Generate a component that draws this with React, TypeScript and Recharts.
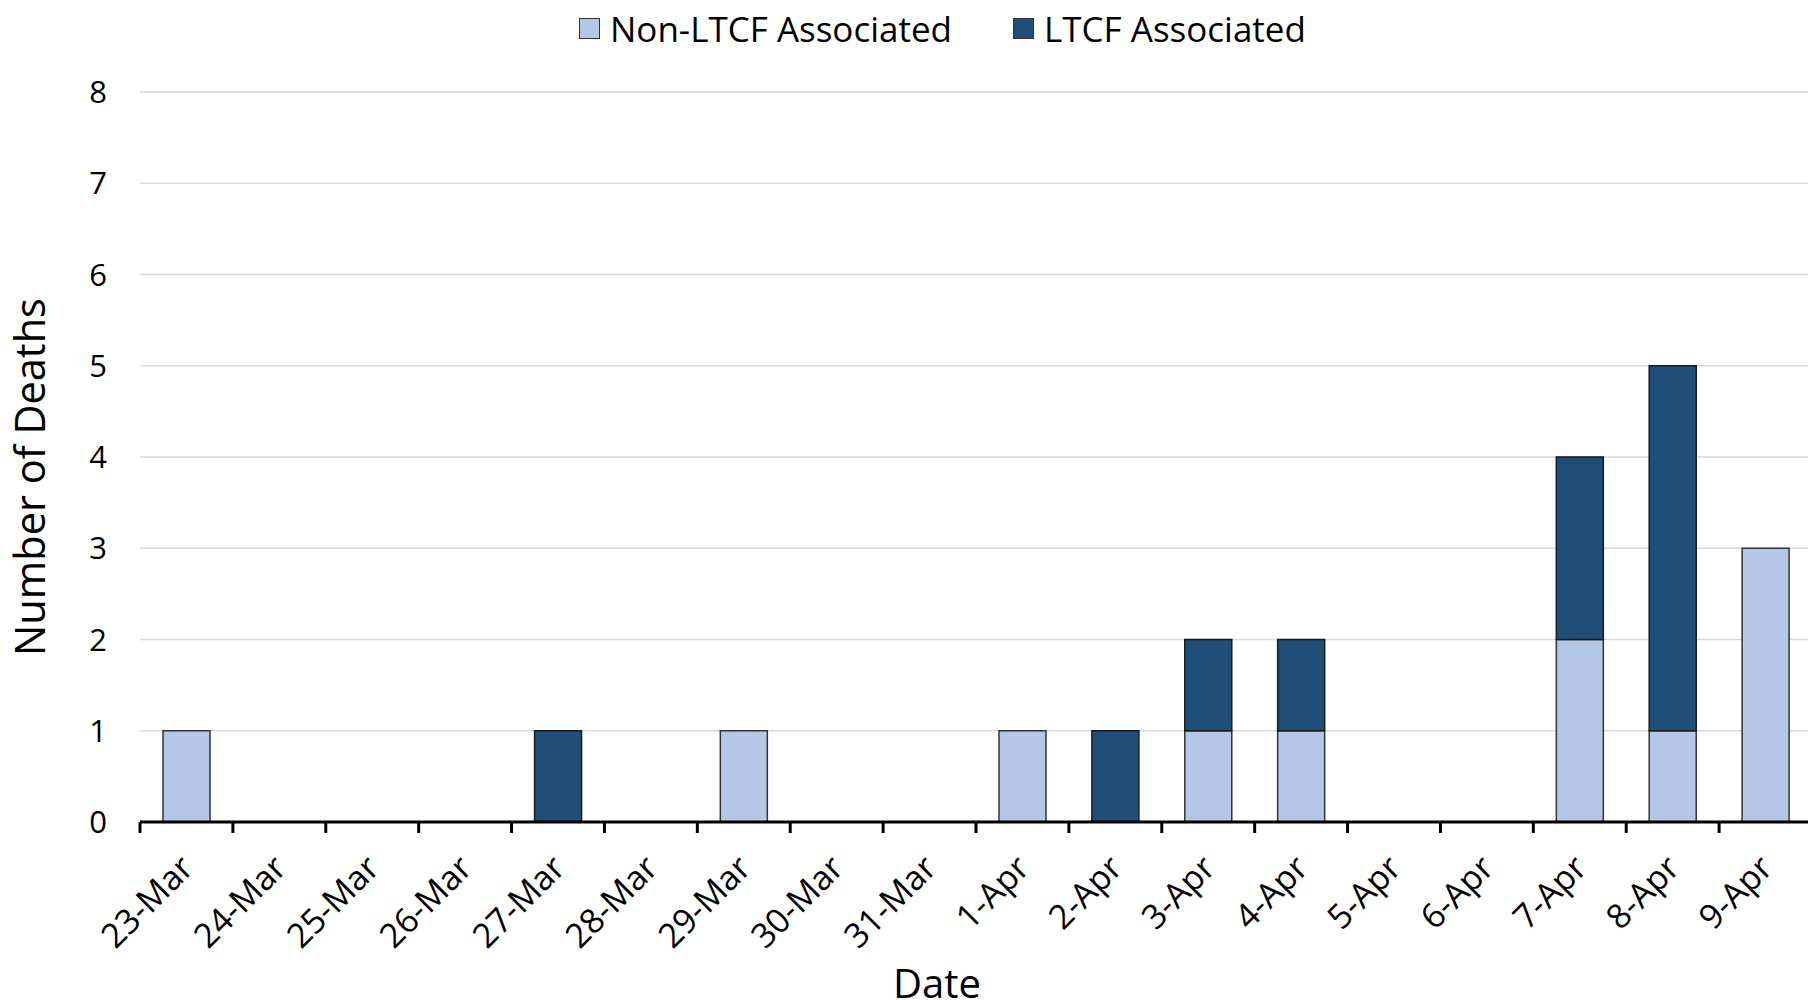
import React from 'react';
import { BarChart, Bar, XAxis, YAxis, CartesianGrid, Label } from 'recharts';

// dates on the x axis
const dates = [
  '23-Mar', '24-Mar', '25-Mar', '26-Mar', '27-Mar', '28-Mar', '29-Mar', '30-Mar', '31-Mar',
  '1-Apr', '2-Apr', '3-Apr', '4-Apr', '5-Apr', '6-Apr', '7-Apr', '8-Apr', '9-Apr',
];
// deaths per day
const nonLtcf = [1, 0, 0, 0, 0, 0, 1, 0, 0, 1, 0, 1, 1, 0, 0, 2, 1, 3];
const ltcf = [0, 0, 0, 0, 1, 0, 0, 0, 0, 0, 1, 1, 1, 0, 0, 2, 4, 0];
const yTicks = [0, 1, 2, 3, 4, 5, 6, 7, 8];

const LIGHT = '#B4C7E7';
const DARK = '#1F4E79';
const FONT = '"Open Sans", sans-serif';

const data = dates.map((d, i) => ({ date: d, nonLtcf: nonLtcf[i], ltcf: ltcf[i] }));

const PLOT_LEFT = 140;
const PLOT_RIGHT = 1812;
const STEP = (PLOT_RIGHT - PLOT_LEFT) / dates.length;

const XTick = (props: any) => {
  const { x, y, payload } = props;
  const bx = x - STEP / 2;
  const tx = x + 9;
  const ty = y + 48;
  return (
    <g>
      <line x1={bx} y1={y} x2={bx} y2={y + 11} stroke="#000" strokeWidth={3} />
      <text
        x={tx}
        y={ty}
        transform={`rotate(-45 ${tx} ${ty})`}
        textAnchor="end"
        fontFamily={FONT}
        fontSize={34}
        fill="#000"
      >
        {payload.value}
      </text>
    </g>
  );
};

const YLabel = (props: any) => {
  const { viewBox } = props;
  const cy = viewBox.y + viewBox.height / 2 + 20;
  return (
    <text
      x={29}
      y={cy}
      transform={`rotate(-90 29 ${cy})`}
      textAnchor="middle"
      dominantBaseline="central"
      fontFamily={FONT}
      fontSize={41.5}
      fill="#000"
    >
      Number of Deaths
    </text>
  );
};

const legendItems = [
  { name: 'Non-LTCF Associated', color: LIGHT },
  { name: 'LTCF Associated', color: DARK },
];

const App: React.FC = () => {
  return (
    <div style={{ position: 'absolute', left: 0, top: 0, width: 1808, height: 1000, overflow: 'hidden', background: '#fff' }}>
      {/* legend */}
      <div
        style={{
          position: 'absolute', left: 579, top: 5, display: 'flex', alignItems: 'center', gap: 61,
          fontFamily: FONT, fontSize: 35, color: '#000', whiteSpace: 'nowrap',
        }}
      >
        {legendItems.map((it) => (
          <div key={it.name} style={{ display: 'flex', alignItems: 'center' }}>
            <span style={{ display: 'inline-block', width: 19, height: 19, background: it.color, border: '1.5px solid #333', marginRight: 10 }} />
            <span>{it.name}</span>
          </div>
        ))}
      </div>
      <BarChart width={1816} height={1000} data={data} margin={{ top: 92, right: 4, left: 0, bottom: 0 }}>
        <CartesianGrid vertical={false} stroke="#d9d9d9" strokeWidth={1.5} />
        <XAxis
          dataKey="date"
          height={178}
          tickLine={false}
          tickSize={0}
          tickMargin={0}
          interval={0}
          axisLine={{ stroke: '#000', strokeWidth: 3 }}
          tick={<XTick />}
        >
          <Label value="Date" position="insideBottom" dx={-39} offset={2} fontFamily={FONT} fontSize={40} fill="#000" />
        </XAxis>
        <YAxis
          width={140}
          domain={[0, 8]}
          ticks={yTicks}
          interval={0}
          axisLine={false}
          tickLine={false}
          tickSize={0}
          tickMargin={33}
          tick={{ fontFamily: FONT, fontSize: 31, fill: '#000' }}
        >
          <Label content={<YLabel />} />
        </YAxis>
        <Bar dataKey="nonLtcf" stackId="a" fill={LIGHT} stroke="#333" strokeWidth={1.5} barSize={47} isAnimationActive={false} />
        <Bar dataKey="ltcf" stackId="a" fill={DARK} stroke="#1a1a1a" strokeWidth={1.5} barSize={47} isAnimationActive={false} />
      </BarChart>
    </div>
  );
};

export default App;
